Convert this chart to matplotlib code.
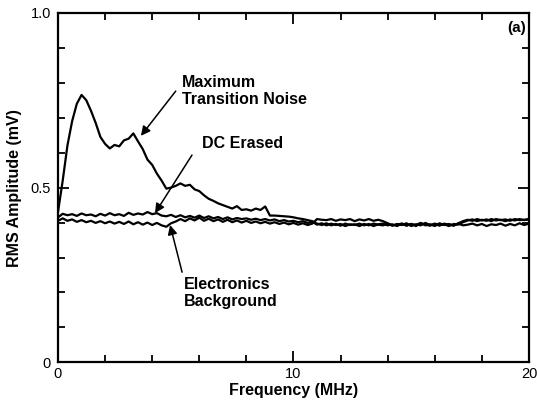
import numpy as np
import matplotlib
matplotlib.use("Agg")
import matplotlib.pyplot as plt
from matplotlib.ticker import MultipleLocator

plt.rcParams['font.family'] = ['Liberation Sans', 'DejaVu Sans']

# frequency grid (MHz), 0.2 MHz steps
freq = np.round(np.arange(0, 20.001, 0.2), 1)

# shared high-frequency tail values (11.0 .. 20.0 MHz)
tail_a = [0.397, 0.393, 0.398, 0.392, 0.396, 0.391, 0.397, 0.393, 0.395, 0.39,
          0.396, 0.392, 0.397, 0.394, 0.392, 0.397, 0.391, 0.396, 0.393, 0.398,
          0.39, 0.395, 0.392, 0.399, 0.393, 0.396, 0.391, 0.397, 0.394, 0.392,
          0.398, 0.404, 0.408, 0.405, 0.41, 0.406, 0.409, 0.404, 0.41, 0.407,
          0.409, 0.405, 0.41, 0.407, 0.408, 0.41]
tail_b = [0.394, 0.398, 0.392, 0.397, 0.393, 0.396, 0.39, 0.395, 0.393, 0.397,
          0.392, 0.396, 0.39, 0.395, 0.397, 0.392, 0.395, 0.39, 0.397, 0.392,
          0.396, 0.39, 0.398, 0.394, 0.391, 0.397, 0.393, 0.395, 0.39, 0.396,
          0.394, 0.401, 0.406, 0.409, 0.404, 0.408, 0.405, 0.41, 0.406, 0.408,
          0.404, 0.409, 0.406, 0.41, 0.407, 0.409]

max_noise = [0.43, 0.52, 0.62, 0.69, 0.74, 0.765, 0.75, 0.72, 0.685, 0.645,
             0.625, 0.612, 0.622, 0.618, 0.635, 0.64, 0.655, 0.632, 0.61, 0.58,
             0.565, 0.54, 0.52, 0.497, 0.50, 0.505, 0.512, 0.505, 0.508, 0.495,
             0.49, 0.478, 0.468, 0.462, 0.455, 0.45, 0.445, 0.44, 0.447, 0.436,
             0.438, 0.434, 0.44, 0.436, 0.446, 0.42, 0.42, 0.419, 0.418, 0.417,
             0.415, 0.412, 0.41, 0.407, 0.404] + tail_a

dc_erased = [0.415, 0.425, 0.421, 0.424, 0.419, 0.426, 0.421, 0.423, 0.418, 0.425,
             0.42, 0.427, 0.421, 0.424, 0.419, 0.428, 0.422, 0.426, 0.423, 0.43,
             0.424, 0.427, 0.42, 0.418, 0.422, 0.416, 0.421, 0.415, 0.419, 0.414,
             0.42, 0.413, 0.418, 0.412, 0.416, 0.41, 0.415, 0.409, 0.413, 0.41,
             0.412, 0.408, 0.411, 0.407, 0.41, 0.406, 0.409, 0.404, 0.407, 0.403,
             0.405, 0.401, 0.404, 0.399, 0.402] + tail_b

background = [0.405, 0.412, 0.405, 0.409, 0.402, 0.407, 0.401, 0.405, 0.399, 0.404,
              0.398, 0.403, 0.397, 0.402, 0.396, 0.403, 0.395, 0.401, 0.394, 0.40,
              0.393, 0.399, 0.392, 0.388, 0.398, 0.403, 0.41, 0.404, 0.412, 0.406,
              0.414, 0.405, 0.411, 0.404, 0.409, 0.402, 0.408, 0.401, 0.406, 0.40,
              0.405, 0.399, 0.403, 0.398, 0.402, 0.397, 0.401, 0.396, 0.40, 0.395,
              0.399, 0.394, 0.398, 0.393, 0.397] + tail_a[::-1]

xtick_labels = ['0', '10', '20']
ytick_labels = ['0', '0.5', '1.0']

fig = plt.figure(figsize=(5.37, 4.0), dpi=100)
ax = fig.add_axes([0.108, 0.094, 0.877, 0.874])

for ys in (background, dc_erased, max_noise):
    ax.plot(freq, ys, color='black', lw=1.6)

ax.set_xlim(0, 20)
ax.set_ylim(0, 1.0)
ax.set_xticks([0, 10, 20])
ax.set_xticklabels(xtick_labels)
ax.set_yticks([0, 0.5, 1.0])
ax.set_yticklabels(ytick_labels)
ax.xaxis.set_minor_locator(MultipleLocator(2))
ax.yaxis.set_minor_locator(MultipleLocator(0.1))
ax.tick_params(which='both', direction='in', top=True, right=True, width=1.3,
               labelsize=10.5)
ax.tick_params(which='major', length=8)
ax.tick_params(which='minor', length=5)
ax.tick_params(axis='y', pad=5)
for sp in ax.spines.values():
    sp.set_linewidth(1.6)

ax.set_xlabel('Frequency (MHz)', fontsize=11.5, fontweight='bold', labelpad=1)
ax.set_ylabel('RMS Amplitude (mV)', fontsize=11.5, fontweight='bold', labelpad=6)

bold = dict(fontsize=11.5, fontweight='bold', va='top', ha='left', linespacing=1.15)
arrow = dict(arrowstyle='-|>', color='black', lw=1.1, mutation_scale=14,
             shrinkA=0, shrinkB=0)

ax.text(5.27, 0.822, 'Maximum\nTransition Noise', **bold)
ax.annotate('', xy=(3.52, 0.648), xytext=(5.0, 0.776), arrowprops=arrow)

ax.text(6.11, 0.648, 'DC Erased', **bold)
ax.annotate('', xy=(4.12, 0.427), xytext=(5.69, 0.593), arrowprops=arrow)

ax.text(5.35, 0.244, 'Electronics\nBackground', **bold)
ax.annotate('', xy=(4.76, 0.393), xytext=(5.27, 0.258), arrowprops=arrow)

ax.text(0.994, 0.976, '(a)', transform=ax.transAxes, fontsize=11,
        fontweight='bold', ha='right', va='top')

fig.savefig('out.png', dpi=100)
